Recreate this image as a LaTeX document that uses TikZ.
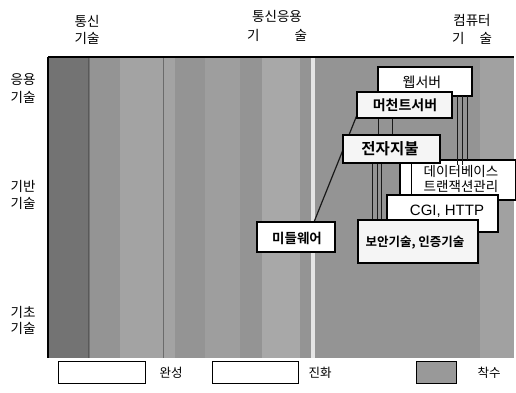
\documentclass[tikz,border=0pt]{standalone}
\usepackage{fontspec}
\newfontfamily\kr{Noto Sans CJK KR}
\newfontfamily\krb{Noto Sans CJK KR Bold}
\newfontfamily\lat{Liberation Sans}
\begin{document}
\begin{tikzpicture}[x=1pt,y=-1pt,
  lbl/.style={font=\kr\fontsize{13.5}{14}\selectfont, inner sep=0pt},
  tbox/.style={draw=black, line width=1.2pt, fill=white, inner sep=0pt},
  sbox/.style={draw=black, line width=1.2pt, fill=gray!8, inner sep=0pt},
  lgbox/.style={draw=black, line width=0.8pt, inner sep=0pt, minimum height=22pt},
  conn/.style={line width=1pt, black!90}]
\useasboundingbox (0,0) rectangle (516,393);
% background halftone area
\fill[black!42] (48,57) rectangle (514,358);
\fill[black!55] (48,57) rectangle (90,358);
\fill[black!36] (120,57) rectangle (175,358);
\fill[black!38] (205,57) rectangle (240,358);
\fill[black!34] (262,57) rectangle (300,358);
\fill[black!10] (311,57) rectangle (315,358);
\fill[black!37] (480,57) rectangle (514,358);
\draw[black!65, line width=0.8pt] (88,57) -- (88,358);
\draw[black!58, line width=0.6pt] (163,57) -- (163,358);
\draw[black, line width=1.4pt] (48,57) -- (514,57);
\draw[black, line width=1.2pt] (48,57) -- (48,358);
% headers
\node[lbl] (h1a) at (87,21) {통신};
\node[lbl] (h1b) at (87,38) {기술};
\node[lbl] (h2a) at (277,16) {통신응용};
\node[lbl] (h2b) at (277,35) {\makebox[60pt][s]{기\hfill 술}};
\node[lbl] (h3a) at (472,20) {컴퓨터};
\node[lbl] (h3b) at (472,38) {\makebox[40pt][s]{기\hfill 술}};
% left labels
\node[lbl] (l1a) at (23,80) {응용};
\node[lbl] (l1b) at (23,97) {기술};
\node[lbl] (l2a) at (23,186) {기반};
\node[lbl] (l2b) at (23,203) {기술};
\node[lbl] (l3a) at (23,312) {기초};
\node[lbl] (l3b) at (23,328) {기술};
% boxes
\node[tbox, minimum width=94pt, minimum height=29pt] (web) at (425,81.5) {};
\node[font=\kr\fontsize{14}{15}\selectfont, inner sep=0pt] (webt) at (422,82) {웹서버};
% connectors (drawn before the lower boxes)
\coordinate (m1) at (378,118); \coordinate (m2) at (392,118);
\coordinate (p1) at (378,135); \coordinate (p2) at (392,135);
\draw[conn] (m1) -- (p1); \draw[conn] (m2) -- (p2);
\coordinate (q1) at (372,163); \coordinate (q2) at (377,163); \coordinate (q3) at (381,163);
\coordinate (s1) at (372,220); \coordinate (s2) at (377,220); \coordinate (s3) at (381,220);
\draw[conn] (q1) -- (s1); \draw[conn] (q2) -- (s2); \draw[conn] (q3) -- (s3);
\coordinate (mw) at (359,110); \coordinate (mt) at (314,222);
\draw[conn, line width=1.2pt] (mw) -- (mt);
\node[sbox, minimum width=95pt, minimum height=26pt] (mer) at (404.5,105) {};
\node[font=\krb\fontsize{14}{15}\selectfont, inner sep=0pt] (mert) at (405,105) {머천트서버};
\node[tbox, minimum width=116pt, minimum height=40pt] (db) at (458,180) {};
\draw[black, line width=0.8pt] (db.north west) ++(12,0) coordinate (dbl) -- (dbl |- db.south);
\coordinate (w1) at (457,96); \coordinate (w2) at (462,96); \coordinate (w3) at (467,96);
\coordinate (d1) at (457,165); \coordinate (d2) at (462,165); \coordinate (d3) at (467,160);
\draw[conn] (w1) -- (d1); \draw[conn] (w2) -- (d2); \draw[conn] (w3) -- (d3);
\node[font=\kr\fontsize{13.5}{14}\selectfont, inner sep=0pt] (dbt1) at (461,171) {데이터베이스};
\node[font=\kr\fontsize{13.5}{14}\selectfont, inner sep=0pt] (dbt2) at (461,186.5) {트랜잭션관리};
\node[sbox, minimum width=97pt, minimum height=28pt] (pay) at (391.5,149) {};
\node[font=\krb\fontsize{15.5}{16}\selectfont, inner sep=0pt] (payt) at (390,149) {전자지불};
\node[tbox, minimum width=111pt, minimum height=37pt] (cgi) at (442.5,213.5) {};
\node[font=\lat\fontsize{15}{16}\selectfont, inner sep=0pt] (cgit) at (447,211) {CGI, HTTP};
\node[sbox, minimum width=120pt, minimum height=43pt] (sec) at (418,241.5) {};
\node[font=\krb\fontsize{12.5}{13}\selectfont, inner sep=0pt] (sect) at (415,243) {보안기술, 인증기술};
\node[tbox, minimum width=78pt, minimum height=30pt] (mid) at (296,237) {};
\node[font=\krb\fontsize{13.5}{14}\selectfont, inner sep=0pt] (midt) at (297,238) {미들웨어};
% legend
\node[lgbox, fill=white, minimum width=87pt] (lg1) at (101.5,372) {};
\node[lbl, font=\kr\fontsize{12.5}{13}\selectfont] (lt1) at (171,373) {완성};
\node[lgbox, fill=white, minimum width=86pt] (lg2) at (255,372) {};
\node[lbl, font=\kr\fontsize{12.5}{13}\selectfont] (lt2) at (320,373) {진화};
\node[lgbox, fill=black!40, minimum width=40pt] (lg3) at (436,372) {};
\node[lbl, font=\kr\fontsize{12.5}{13}\selectfont] (lt3) at (489,373) {착수};
\end{tikzpicture}
\end{document}
